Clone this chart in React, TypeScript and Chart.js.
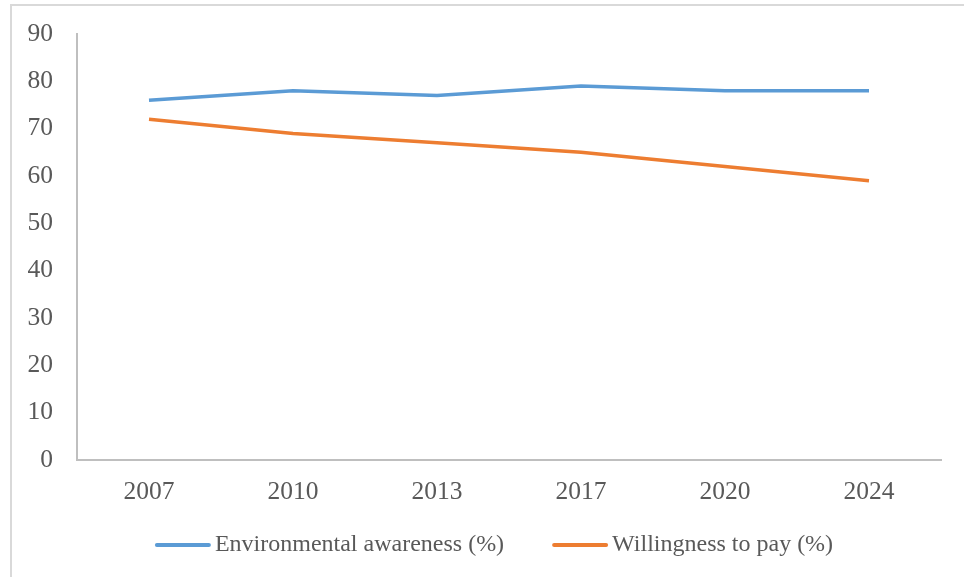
import React, { useEffect, useRef } from "react";
import { Chart, registerables } from "chart.js";

Chart.register(...registerables);

const years = ["2007", "2010", "2013", "2017", "2020", "2024"];
const awareness = [76, 78, 77, 79, 78, 78];
const willingness = [72, 69, 67, 65, 62, 59];
const yMin = 0;
const yMax = 90;
const yStep = 10;

const FONT = "'Liberation Serif', 'Times New Roman', serif";
const TEXT = "#595959";

// Light frame around the chart, open on the right and bottom edges
const framePlugin = {
  id: "frame",
  beforeDraw(chart: Chart) {
    const { ctx, width, height } = chart;
    ctx.save();
    ctx.fillStyle = "#ffffff";
    ctx.fillRect(0, 0, width, height);
    ctx.strokeStyle = "#d9d9d9";
    ctx.lineWidth = 2;
    ctx.strokeRect(11, 5, width + 20, height + 20);
    ctx.restore();
  },
};

// Bottom legend: short line sample followed by the series name
const lineLegendPlugin = {
  id: "lineLegend",
  afterDraw(chart: Chart) {
    const { ctx } = chart;
    const sample = 54;
    const gapText = 5;
    const gapItem = 49;
    const centerX = 494.5;
    const y = 545;
    ctx.save();
    ctx.font = `24px ${FONT}`;
    const items = chart.data.datasets.map((ds: any) => ({
      label: ds.label as string,
      color: ds.borderColor as string,
      w: ctx.measureText(ds.label).width,
    }));
    const total =
      items.reduce((s, it) => s + sample + gapText + it.w, 0) + gapItem * (items.length - 1);
    let x = centerX - total / 2;
    items.forEach((it) => {
      ctx.strokeStyle = it.color;
      ctx.lineWidth = 4;
      ctx.lineCap = "round";
      ctx.beginPath();
      ctx.moveTo(x + 1, y);
      ctx.lineTo(x + sample - 1, y);
      ctx.stroke();
      x += sample + gapText;
      ctx.fillStyle = TEXT;
      ctx.textAlign = "left";
      ctx.textBaseline = "middle";
      ctx.fillText(it.label, x, y);
      x += it.w + gapItem;
    });
    ctx.restore();
  },
};

export default function App() {
  const ref = useRef<HTMLCanvasElement | null>(null);

  useEffect(() => {
    if (!ref.current) return;
    const chart = new Chart(ref.current, {
      type: "line",
      data: {
        labels: years,
        datasets: [
          {
            label: "Environmental awareness (%)",
            data: awareness,
            borderColor: "#5b9bd5",
            backgroundColor: "#5b9bd5",
            borderWidth: 3.5,
            pointRadius: 0,
            tension: 0,
          },
          {
            label: "Willingness to pay (%)",
            data: willingness,
            borderColor: "#ed7d31",
            backgroundColor: "#ed7d31",
            borderWidth: 3.5,
            pointRadius: 0,
            tension: 0,
          },
        ],
      },
      options: {
        animation: false,
        responsive: false,
        layout: { padding: { left: 0, right: 23, top: 34, bottom: 67 } },
        plugins: {
          tooltip: { enabled: false },
          legend: { display: false },
        },
        scales: {
          x: {
            offset: true,
            grid: { display: false, drawTicks: false },
            border: { color: "#bfbfbf", width: 2 },
            ticks: {
              color: TEXT,
              padding: 17,
              font: { family: FONT, size: 25.5 },
              maxRotation: 0,
            },
            afterFit(scale: any) {
              scale.height = 50;
              scale.paddingLeft = 0;
              scale.paddingRight = 0;
            },
          },
          y: {
            min: yMin,
            max: yMax,
            grid: { display: false, drawTicks: false },
            border: { color: "#bfbfbf", width: 2 },
            ticks: {
              stepSize: yStep,
              color: TEXT,
              padding: 24,
              font: { family: FONT, size: 25.5 },
            },
            afterFit(scale: any) {
              scale.width = 77;
              scale.paddingTop = 0;
              scale.paddingBottom = 0;
            },
          },
        },
      },
      plugins: [framePlugin, lineLegendPlugin],
    });
    return () => chart.destroy();
  }, []);

  return (
    <div style={{ position: "absolute", left: 0, top: 0, width: 964, height: 577 }}>
      <canvas ref={ref} width={964} height={577} />
    </div>
  );
}
